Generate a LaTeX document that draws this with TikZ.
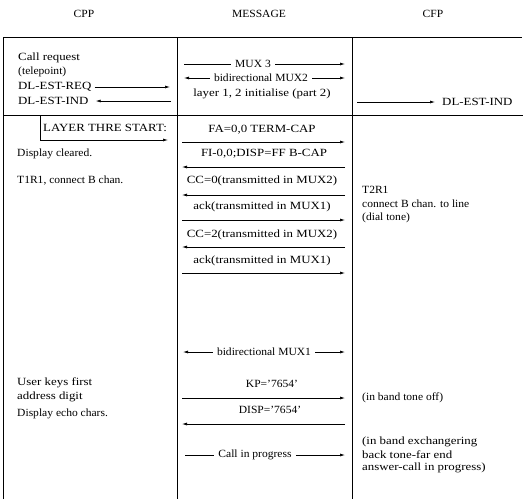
\documentclass[tikz,border=0pt]{standalone}
\usepackage{fontspec}
\setmainfont{Liberation Serif}[FakeStretch=1.05]
\newfontfamily\widefont{Liberation Serif}[FakeStretch=1.17]
\usetikzlibrary{arrows.meta}
\begin{document}
\begin{tikzpicture}[x=1pt,y=-1pt,
  txt/.style={inner sep=1pt, font=\fontsize{11}{12}\selectfont},
  wtxt/.style={inner sep=1pt, font=\fontsize{11}{12}\selectfont\widefont},
  lt/.style={txt, anchor=west},
  wlt/.style={wtxt, anchor=west},
  ct/.style={txt},
  wct/.style={wtxt},
  gap/.style={txt, inner xsep=4pt},
  frame/.style={line width=0.9pt},
  msg/.style={line width=0.7pt, -{Latex[length=5pt,width=3pt]}},
  plain/.style={line width=0.7pt}]
\useasboundingbox (0,0) rectangle (526,499);
% headers
\node[ct] (hcpp) at (84,14) {CPP};
\node[ct] (hmsg) at (259,14) {MESSAGE};
\node[ct] (hcfp) at (433,14) {CFP};
% frame
\draw[frame] (3,499) -- (3,37) -- (522,37);
\draw[frame] (177,37) -- (177,499);
\draw[frame] (352,37) -- (352,499);
\draw[frame] (3,115) -- (523,115);
% left column, top
\node[wlt] (callreq) at (17,58) {Call request};
\node[lt] (telep) at (17,72) {(telepoint)};
\node[wlt] (dlreq) at (17,87) {DL-EST-REQ};
\node[wlt] (dlind) at (17,101) {DL-EST-IND};
\coordinate (c1R) at (170,87);
\coordinate (c2R) at (171,101);
\draw[msg, shorten <=2pt] (dlreq) -- (c1R);
\draw[msg, shorten >=6pt] (c2R) -- (dlind);
% middle top
\node[gap] (mux3) at (253,64) {MUX 3};
\coordinate (m3L) at (184,64);
\coordinate (m3R) at (345,64);
\draw[plain] (m3L) -- (mux3);
\draw[msg] (mux3) -- (m3R);
\node[gap] (mux2) at (261,78) {bidirectional MUX2};
\coordinate (m2L) at (184,78);
\coordinate (m2R) at (345,78);
\draw[msg] (mux2) -- (m2L);
\draw[msg] (mux2) -- (m2R);
\node[wct] (init) at (262,94) {layer 1, 2 initialise (part 2)};
% right top
\node[wlt] (dlind2) at (441,102) {DL-EST-IND};
\coordinate (r1L) at (357,102);
\draw[msg, shorten >=6pt] (r1L) -- (dlind2);
% layer three start
\node[wlt] (layer) at (42,128) {LAYER THRE START:};
\coordinate (lyA) at (40,115);
\coordinate (lyB) at (168,140);
\draw[msg] (lyA) |- (lyB);
% middle rows
\node[wct] (fa) at (262,130) {FA=0,0 TERM-CAP};
\coordinate (faL) at (182,142); \coordinate (faR) at (345,142);
\draw[msg] (faL) -- (faR);
\node[wct] (fi) at (264,154) {FI-0,0;DISP=FF B-CAP};
\coordinate (fiL) at (182,167); \coordinate (fiR) at (345,167);
\draw[msg] (fiR) -- (fiL);
\node[wct] (cc0) at (262,181) {CC=0(transmitted in MUX2)};
\coordinate (ccaL) at (182,195); \coordinate (ccaR) at (345,195);
\draw[msg] (ccaR) -- (ccaL);
\node[wct] (ack1) at (262,207) {ack(transmitted in MUX1)};
\coordinate (akaL) at (182,220); \coordinate (akaR) at (345,220);
\draw[msg] (akaL) -- (akaR);
\node[wct] (cc2) at (262,235) {CC=2(transmitted in MUX2)};
\coordinate (ccbL) at (182,247); \coordinate (ccbR) at (345,247);
\draw[msg] (ccbR) -- (ccbL);
\node[wct] (ack2) at (262,261) {ack(transmitted in MUX1)};
\coordinate (akbL) at (182,273); \coordinate (akbR) at (345,273);
\draw[msg] (akbL) -- (akbR);
% left rows
\node[lt] (dispclr) at (16,154) {Display cleared.};
\node[lt] (t1r1) at (16,181) {T1R1, connect B chan.};
% right rows
\node[lt] (t2r1) at (361,190) {T2R1};
\node[lt] (conn) at (361,204) {connect B chan. to line};
\node[lt] (dial) at (361,218) {(dial tone)};
% bidirectional MUX1
\node[gap] (mux1) at (264,352) {bidirectional MUX1};
\coordinate (b1L) at (183,352); \coordinate (b1R) at (345,352);
\draw[msg] (mux1) -- (b1L);
\draw[msg] (mux1) -- (b1R);
% KP / DISP
\node[ct] (kp) at (272,384) {KP='7654'};
\coordinate (kpL) at (182,398); \coordinate (kpR) at (345,398);
\draw[msg] (kpL) -- (kpR);
\node[ct] (disp) at (270,410) {DISP='7654'};
\coordinate (dpL) at (182,424); \coordinate (dpR) at (345,424);
\draw[msg] (dpR) -- (dpL);
\node[wlt] (user) at (16,383) {User keys first};
\node[wlt] (addr) at (16,397) {address digit};
\node[lt] (echo) at (16,414) {Display echo chars.};
\node[lt] (toneoff) at (361,398) {(in band tone off)};
% call in progress
\node[gap] (cip) at (255,455) {Call in progress};
\coordinate (cpL) at (185,455); \coordinate (cpR) at (345,455);
\draw[plain] (cpL) -- (cip);
\draw[msg] (cip) -- (cpR);
\node[wlt] (exch1) at (361,442) {(in band exchangering};
\node[wlt] (exch2) at (361,455) {back tone-far end};
\node[wlt] (exch3) at (361,468) {answer-call in progress)};
\end{tikzpicture}
\end{document}
